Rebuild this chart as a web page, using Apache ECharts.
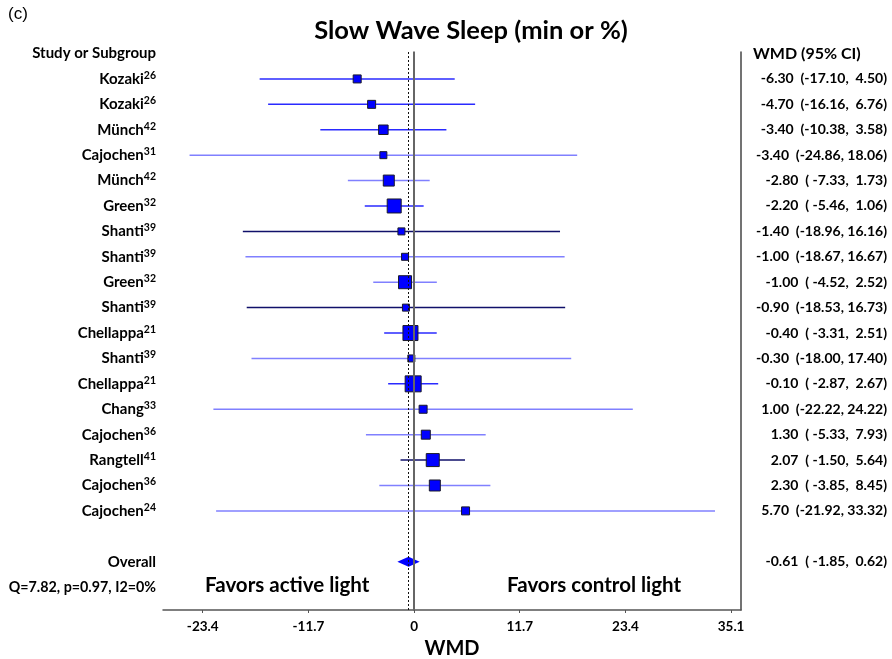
<!DOCTYPE html>
<html>
<head>
<meta charset="utf-8">
<script src="https://cdn.jsdelivr.net/npm/echarts@6/dist/echarts.min.js"></script>
<style>
  html, body { margin: 0; padding: 0; background: #fff; }
  #forest { width: 892px; height: 659px; }
</style>
</head>
<body>
<div id="forest"></div>
<script>
// 数据
var studies = ['Kozaki', 'Kozaki', 'Münch', 'Cajochen', 'Münch', 'Green', 'Shanti', 'Shanti', 'Green',
  'Shanti', 'Chellappa', 'Shanti', 'Chellappa', 'Chang', 'Cajochen', 'Rangtell', 'Cajochen', 'Cajochen']
var refs = ['26', '26', '42', '31', '42', '32', '39', '39', '32', '39', '21', '39', '21', '33', '36', '41', '36', '24']
var wmd = [-6.30, -4.70, -3.40, -3.40, -2.80, -2.20, -1.40, -1.00, -1.00, -0.90, -0.40, -0.30, -0.10, 1.00, 1.30, 2.07, 2.30, 5.70]
var lower = [-17.10, -16.16, -10.38, -24.86, -7.33, -5.46, -18.96, -18.67, -4.52, -18.53, -3.31, -18.00, -2.87, -22.22, -5.33, -1.50, -3.85, -21.92]
var upper = [4.50, 6.76, 3.58, 18.06, 1.73, 1.06, 16.16, 16.67, 2.52, 16.73, 2.51, 17.40, 2.67, 24.22, 7.93, 5.64, 8.45, 33.32]
// 相对权重（方块大小）
var weights = [8, 8, 9.5, 7, 11, 14, 7, 7, 13, 7, 15, 7, 16, 8, 9, 13, 11, 8]
var overallEst = -0.61
var overallLow = -1.85
var overallHigh = 0.62
var heterogeneity = 'Q=7.82, p=0.97, I2=0%'
var xTicks = [-23.4, -11.7, 0, 11.7, 23.4, 35.1]

var overallRow = 19
var qRow = 20
var headerRow = -1

// 线条颜色
var lineDark = [6, 9, 15]
var lineMid = [0, 1, 2, 5, 10, 12]
function lineColor(i) {
  if (lineDark.indexOf(i) >= 0) return '#10106a'
  if (lineMid.indexOf(i) >= 0) return '#2a2aff'
  return '#8080ff'
}

function ciText(e, l, u) {
  var lo = l.toFixed(2)
  var hi = u.toFixed(2)
  if (lo.length < 6) lo = ' ' + lo
  if (hi.length < 5) hi = ' ' + hi
  return e.toFixed(2) + '  (' + lo + ', ' + hi + ')'
}

var FONT = 'Lato, "Open Sans", sans-serif'
var rowIdx = wmd.map(function(v, i) { return i })

var chart = echarts.init(document.getElementById('forest'))

var leftRows = rowIdx.map(function(i) { return [i, i] })
leftRows.push([headerRow, -1], [overallRow, -2], [qRow, -3])
var rightRows = rowIdx.map(function(i) { return [i, i] })
rightRows.push([headerRow, -1], [overallRow, -2])

var option = {
  animation: false,
  title: {
    text: 'Slow Wave Sleep (min or %)',
    left: 466,
    textAlign: 'center',
    top: 13,
    textStyle: { fontFamily: FONT, fontSize: 25.5, fontWeight: 'bold', color: '#000' }
  },
  graphic: [
    { type: 'text', left: 8, top: 6, style: { text: '(c)', font: '17px "Liberation Sans", Arial, sans-serif', fill: '#000' } },
    { type: 'text', left: 205, top: 575, style: { text: 'Favors active light', font: 'bold 20.5px ' + FONT, fill: '#000' } },
    { type: 'text', left: 507, top: 575, style: { text: 'Favors control light', font: 'bold 20.5px ' + FONT, fill: '#000' } }
  ],
  grid: { left: 163, right: 151, top: 52, bottom: 49, outerBoundsMode: 'none', containLabel: false },
  xAxis: {
    type: 'value',
    min: -27.8,
    max: 36.2,
    name: 'WMD',
    nameLocation: 'middle',
    nameGap: 28,
    nameTextStyle: { fontFamily: FONT, fontSize: 20, fontWeight: 'bold', color: '#000', verticalAlign: 'top' },
    splitLine: { show: false },
    axisLine: { show: true, onZero: false, lineStyle: { color: '#555', width: 1.5 } },
    axisTick: { show: true, length: 3, customValues: xTicks, lineStyle: { color: '#555' } },
    axisLabel: {
      customValues: xTicks,
      margin: 10,
      fontFamily: FONT,
      fontSize: 13.5,
      fontWeight: 'bold',
      color: '#000',
      formatter: function(v) { return v === 0 ? '0' : v.toFixed(1) }
    }
  },
  yAxis: [
    {
      type: 'value', inverse: true, min: -1.06, max: 20.9,
      axisLine: { show: true, lineStyle: { color: '#444', width: 1.5 } },
      axisTick: { show: false }, axisLabel: { show: false }, splitLine: { show: false }
    },
    {
      type: 'value', inverse: true, min: -1.06, max: 20.9, position: 'right',
      axisLine: { show: true, lineStyle: { color: '#444', width: 1.5 } },
      axisTick: { show: false }, axisLabel: { show: false }, splitLine: { show: false }
    }
  ],
  series: [
    {
      // 置信区间
      type: 'custom',
      silent: true,
      data: rowIdx.map(function(i) { return [i, lower[i], upper[i]] }),
      encode: { x: [1, 2], y: 0 },
      renderItem: function(params, api) {
        var a = api.coord([api.value(1), api.value(0)])
        var b = api.coord([api.value(2), api.value(0)])
        return {
          type: 'line',
          shape: { x1: a[0], y1: a[1], x2: b[0], y2: b[1] },
          style: { stroke: lineColor(params.dataIndex), lineWidth: 1.5 }
        }
      },
      markLine: {
        silent: true,
        symbol: 'none',
        label: { show: false },
        data: [
          { xAxis: 0, lineStyle: { color: '#666', width: 2, type: 'solid' } },
          { xAxis: overallEst, lineStyle: { color: '#111', width: 1, type: [2, 2] } }
        ]
      },
      z: 2
    },
    {
      // 方块
      type: 'scatter',
      silent: true,
      symbol: 'rect',
      data: rowIdx.map(function(i) { return [wmd[i], i, weights[i]] }),
      symbolSize: function(d) { return d[2] },
      itemStyle: { color: '#0000ff', borderColor: '#1a1a2a', borderWidth: 1, opacity: 1 },
      z: 3
    },
    {
      // 合并效应 菱形
      type: 'custom',
      silent: true,
      data: [[overallRow, overallLow, overallEst, overallHigh]],
      encode: { x: [1, 2, 3], y: 0 },
      renderItem: function(params, api) {
        var r = api.value(0)
        var l = api.coord([api.value(1), r])
        var c = api.coord([api.value(2), r])
        var h = api.coord([api.value(3), r])
        return {
          type: 'polygon',
          shape: { points: [[l[0], l[1]], [c[0], c[1] - 5], [h[0], h[1]], [c[0], c[1] + 5]] },
          style: { fill: '#0000ff' }
        }
      },
      z: 4
    },
    {
      // 左侧文字
      type: 'custom',
      silent: true,
      clip: false,
      data: leftRows,
      encode: { y: 0 },
      renderItem: function(params, api) {
        var r = api.value(0)
        var k = api.value(1)
        var p = api.coord([0, r])
        var txt
        if (k >= 0) txt = '{n|' + studies[k] + '}{s|' + refs[k] + '}'
        else if (k === -1) txt = '{n|Study or Subgroup}'
        else if (k === -2) txt = '{n|Overall}'
        else txt = '{q|' + heterogeneity + '}'
        return {
          type: 'text',
          x: 156,
          y: p[1],
          style: {
            text: txt,
            align: 'right',
            verticalAlign: 'middle',
            fill: '#000',
            rich: {
              n: { fontFamily: FONT, fontSize: 15, fontWeight: 'bold', lineHeight: 18, verticalAlign: 'middle' },
              q: { fontFamily: FONT, fontSize: 14.3, fontWeight: 'bold', lineHeight: 18, verticalAlign: 'middle' },
              s: { fontFamily: FONT, fontSize: 10.5, fontWeight: 'bold', lineHeight: 18, verticalAlign: 'top' }
            }
          }
        }
      }
    },
    {
      // 右侧文字
      type: 'custom',
      silent: true,
      clip: false,
      data: rightRows,
      encode: { y: 0 },
      renderItem: function(params, api) {
        var r = api.value(0)
        var k = api.value(1)
        var p = api.coord([0, r])
        var txt
        if (k >= 0) txt = ciText(wmd[k], lower[k], upper[k])
        else if (k === -1) txt = 'WMD (95% CI)'
        else txt = ciText(overallEst, overallLow, overallHigh)
        return {
          type: 'text',
          x: k === -1 ? 753 : 887,
          y: p[1],
          style: {
            text: txt,
            align: k === -1 ? 'left' : 'right',
            verticalAlign: 'middle',
            fill: '#000',
            fontFamily: FONT,
            fontSize: k === -1 ? 16 : 14,
            fontWeight: 'bold'
          }
        }
      }
    }
  ]
}

chart.setOption(option)
</script>
</body>
</html>
